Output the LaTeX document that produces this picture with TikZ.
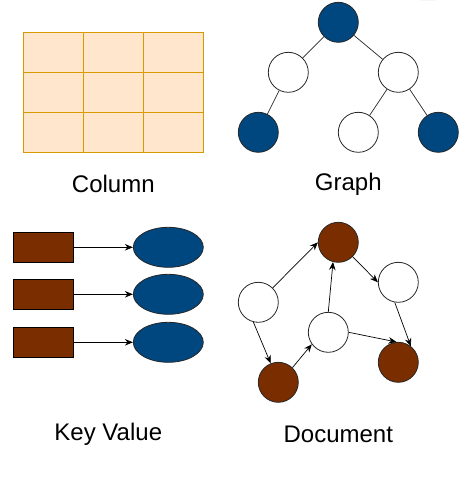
\documentclass[tikz,border=0pt]{standalone}
\usepackage{fontspec}
\setmainfont{Liberation Sans}
\usetikzlibrary{arrows.meta,shapes.geometric}
\definecolor{cellfill}{HTML}{FFE6CC}
\definecolor{cellline}{HTML}{D79B00}
\definecolor{navy}{HTML}{004780}
\definecolor{rust}{HTML}{7A2E00}
\definecolor{ghost}{HTML}{B8B0D8}
\tikzset{
  x=1pt,y=-1pt,
  cell/.style={draw=cellline,fill=cellfill,line width=0.9pt,minimum width=60pt,minimum height=40pt,inner sep=0pt},
  gnode/.style={circle,draw=black!85,line width=0.8pt,minimum size=40pt,inner sep=0pt},
  bluenode/.style={gnode,fill=navy},
  brownnode/.style={gnode,fill=rust},
  whitenode/.style={gnode,fill=white},
  keybox/.style={draw=black,fill=rust,line width=0.9pt,minimum width=60pt,minimum height=30pt,inner sep=0pt},
  valell/.style={ellipse,draw=black!85,fill=navy,line width=0.8pt,minimum width=70pt,minimum height=40pt,inner sep=0pt},
  edge/.style={draw=black!85,line width=0.7pt},
  arr/.style={draw=black,line width=0.7pt,-{Stealth[length=8pt,width=6.5pt]}},
  caption/.style={font=\fontsize{24}{28}\selectfont,inner sep=0pt}
}
\begin{document}
\begin{tikzpicture}
\useasboundingbox (0,0) rectangle (472,480);
% faint partial circle at top edge
\fill[ghost] (420,0) arc[start angle=180,end angle=360,radius=8] -- cycle;
% Column table
\foreach \c in {0,1,2}{
  \foreach \r in {0,1,2}{
    \node[cell] (cell\c\r) at (53.3+60*\c,52.3+40*\r) {};
  }
}
\node[caption] (colcap) at (113.3,184) {Column};
% Graph
\node[bluenode] (gt) at (338.3,22.3) {};
\node[whitenode] (gml) at (288.3,72.3) {};
\node[whitenode] (gmr) at (398.3,72.3) {};
\node[bluenode] (gbl) at (258.3,132.3) {};
\node[whitenode] (gbm) at (358.3,132.3) {};
\node[bluenode] (gbr) at (438.3,132.3) {};
\draw[edge] (gt) -- (gml);
\draw[edge] (gt) -- (gmr);
\draw[edge] (gml) -- (gbl);
\draw[edge] (gmr) -- (gbm);
\draw[edge] (gmr) -- (gbr);
\node[caption] (graphcap) at (348.3,184) {Graph};
% Key Value
\node[keybox] (k1) at (43.3,247.3) {};
\node[keybox] (k2) at (43.3,294.3) {};
\node[keybox] (k3) at (43.3,342.3) {};
\node[valell] (v1) at (168.3,247.3) {};
\node[valell] (v2) at (168.3,294.3) {};
\node[valell] (v3) at (168.3,342.3) {};
\draw[arr] (k1) -- (v1);
\draw[arr] (k2) -- (v2);
\draw[arr] (k3) -- (v3);
\node[caption] (kvcap) at (108.3,434) {Key Value};
% Document
\node[brownnode] (dt) at (338.3,242.3) {};
\node[whitenode] (dr) at (398.3,282.3) {};
\node[whitenode] (dl) at (258.3,302.3) {};
\node[whitenode] (dc) at (328.3,332.3) {};
\node[brownnode] (dbr) at (398.3,362.3) {};
\node[brownnode] (dbl) at (278.3,382.3) {};
\draw[arr] (dl.45) -- (dt.west);
\draw[arr] (dt.-45) -- (dr.west);
\draw[arr] (dr.-100) -- (dbr.52);
\draw[arr] (dl.-104) -- (dbl.112);
\draw[arr] (dbl.46) -- (dc.216);
\draw[arr] (dc.north) -- (dt.-105);
\draw[arr] (dc.east) -- (dbr.95);
\node[caption] (doccap) at (338.3,434) {Document};
\end{tikzpicture}
\end{document}
